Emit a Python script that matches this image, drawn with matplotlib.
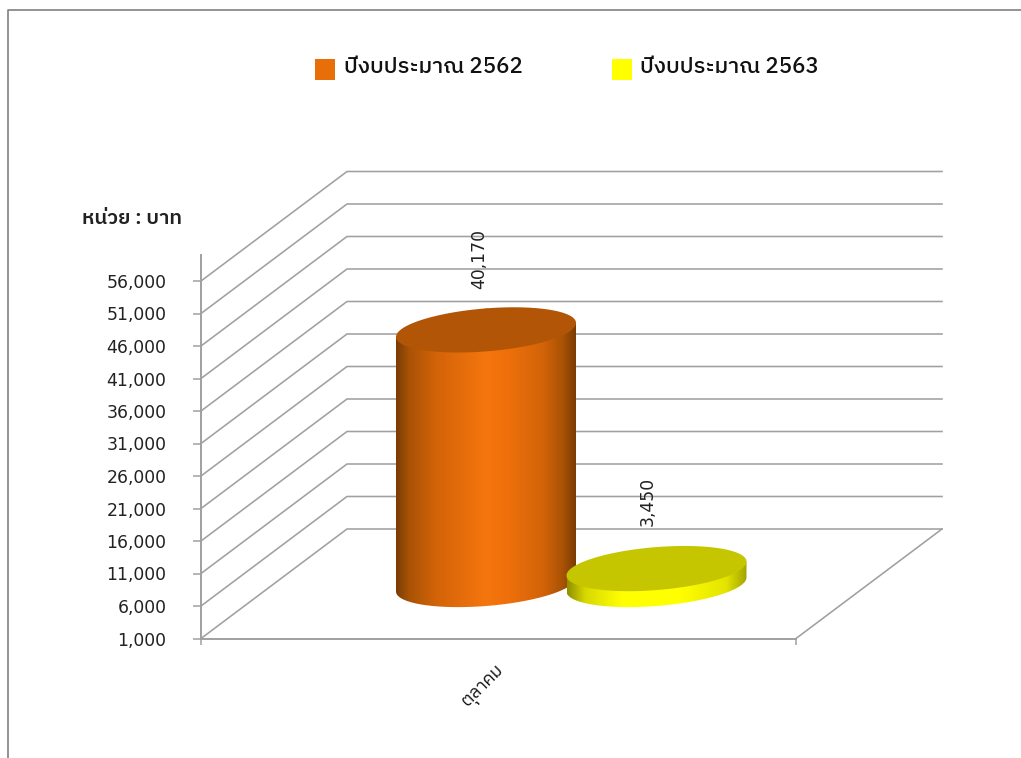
import matplotlib
matplotlib.use('Agg')
import matplotlib.pyplot as plt
import numpy as np
from matplotlib.colors import LinearSegmentedColormap
from matplotlib.lines import Line2D
from matplotlib.patches import Polygon, Rectangle

# ข้อมูล
series_names = ['ปีงบประมาณ 2562', 'ปีงบประมาณ 2563']
months = ['ตุลาคม']
values = [40170, 3450]
value_labels = ['40,170', '3,450']
y_ticks = [1000, 6000, 11000, 16000, 21000, 26000, 31000, 36000, 41000, 46000, 51000, 56000]

W, H = 1021, 758
THAI = ['DejaVu Sans', 'IBM Plex Sans Thai', 'Noto Sans Thai', 'FreeSerif']
LEGEND_FONT = ['IBM Plex Sans Thai', 'Noto Sans Thai', 'Noto Sans', 'DejaVu Sans']
GRID = '#a0a0a0'

# ระนาบหน้าของกราฟ (พิกเซล)
left_px, right_px, base_px, top_px = 201, 796, 638.5, 255
px_per_value = 32.5 / 5000


def fx(px):
    return px / W


def fy(py):
    return 1 - py / H


def dx(px):
    return px / (right_px - left_px)


def dv(px):
    return px / px_per_value


fig = plt.figure(figsize=(W / 100, H / 100), dpi=100)
ax = fig.add_axes([fx(left_px), fy(base_px), fx(right_px - left_px), (base_px - top_px) / H])
ymax = 1000 + dv(base_px - top_px)
ax.patch.set_visible(False)

# เส้นตาราง
depth_x, depth_v = dx(146), dv(109.5)
for v in y_ticks:
    ax.plot([0, depth_x, 1 + depth_x], [v, v + depth_v, v + depth_v], color=GRID, lw=1.15, zorder=1, clip_on=False)
ax.plot([1, 1 + depth_x], [1000, 1000 + depth_v], color=GRID, lw=1.15, zorder=1, clip_on=False)


def draw_cylinder(center, value, stops, top_color, z):
    half_w, tilt, half_h = dx(90), dv(7), dv(21.5)
    base = value_base
    t = np.linspace(0, 2 * np.pi, 181)
    # จุดบนวงรีเอียง (ล่าง = ค่า v น้อยลง)
    ex = center + half_w * np.cos(t)
    ey = tilt * np.cos(t) - half_h * np.sin(t)
    front = np.linspace(0, np.pi, 91)
    fxs = center + half_w * np.cos(front)
    fys = base + tilt * np.cos(front) - half_h * np.sin(front)
    verts = list(zip(fxs, fys))
    verts += [(center - half_w, value - tilt), (center, value + half_h), (center + half_w, value + tilt)]
    side = Polygon(verts, closed=True, facecolor='none', edgecolor='none', transform=ax.transData, zorder=z)
    ax.add_patch(side)
    cmap = LinearSegmentedColormap.from_list('side', stops)
    img = ax.imshow(np.linspace(0, 1, 256).reshape(1, -1), cmap=cmap, aspect='auto', interpolation='bilinear',
                    extent=[center - half_w, center + half_w, base - half_h - tilt, value + half_h + tilt], zorder=z)
    img.set_clip_path(side)
    ax.add_patch(Polygon(np.column_stack([ex, value + ey]), closed=True, facecolor=top_color, edgecolor='none', zorder=z + 0.5))


value_base = 1000 + dv(base_px - 584.5)
orange_stops = [(0, '#7a3c05'), (0.07, '#a85205'), (0.22, '#d26308'), (0.5, '#f5760e'), (0.62, '#ef700b'), (0.82, '#d26308'), (0.93, '#a85205'), (1, '#7a3c03')]
yellow_stops = [(0, '#8f8f00'), (0.1, '#d8d800'), (0.3, '#ffff00'), (0.62, '#ffff00'), (0.88, '#e4e400'), (1, '#a0a000')]
draw_cylinder(dx(486 - left_px), value_base + values[0] - 1000, orange_stops, '#b25506', 3)
draw_cylinder(dx(656.5 - left_px), value_base + values[1] - 1000, yellow_stops, '#c6c600', 5)

# แกน
ax.set_xlim(0, 1)
ax.set_ylim(1000, ymax)
for s in ['top', 'right']:
    ax.spines[s].set_visible(False)
for s in ['left', 'bottom']:
    ax.spines[s].set_color(GRID)
    ax.spines[s].set_linewidth(1.4)
ax.set_yticks(y_ticks)
ax.set_yticklabels([f'{v:,}' for v in y_ticks], fontsize=12.4, color='#222222', family=THAI)
ax.tick_params(axis='y', length=5.8, width=1.1, color=GRID, pad=19)
ax.set_xticks([0, 1])
ax.set_xticklabels(['', ''])
ax.tick_params(axis='x', which='major', length=4.5, width=1.1, color=GRID)
ax.set_xticks([0.495], minor=True)
ax.set_xticklabels(months, minor=True, rotation=45, ha='right', va='top', rotation_mode='anchor', fontsize=12.5,
                   color='#111111', family=THAI)
ax.tick_params(axis='x', which='minor', length=0, pad=17)

# ป้ายค่า
ax.text(dx(479 - left_px), value_base + values[0] - 1000 + dv(41), value_labels[0], rotation=90, ha='center', va='bottom',
        fontsize=12.4, color='#222222', family=THAI, zorder=8)
ax.text(dx(648 - left_px), value_base + values[1] - 1000 + dv(43), value_labels[1], rotation=90, ha='center', va='bottom',
        fontsize=12.4, color='#222222', family=THAI, zorder=8)

# หน่วย
fig.text(fx(82), fy(218), 'หน่วย : บาท', fontsize=14.7, color='#222222', family=LEGEND_FONT, fontweight='semibold', va='center', ha='left')

# คำอธิบาย
legend_colors = ['#e86e0a', '#ffff00']
legend_box_x = [315, 612]
legend_text_x = [344, 640]
for name, c, bx, tx in zip(series_names, legend_colors, legend_box_x, legend_text_x):
    fig.add_artist(Rectangle((fx(bx), fy(79.5)), 20 / W, 20 / H, transform=fig.transFigure, facecolor=c, edgecolor='none'))
    fig.text(fx(tx), fy(73), name, fontsize=16, color='#111111', family=LEGEND_FONT, fontweight='medium', va='baseline', ha='left')

# กรอบภาพ
fig.add_artist(Line2D([fx(8), fx(8), 1], [0, fy(10), fy(10)], transform=fig.transFigure, color='#808080', lw=1.2))

fig.savefig('out.png', dpi=100, facecolor='white')
